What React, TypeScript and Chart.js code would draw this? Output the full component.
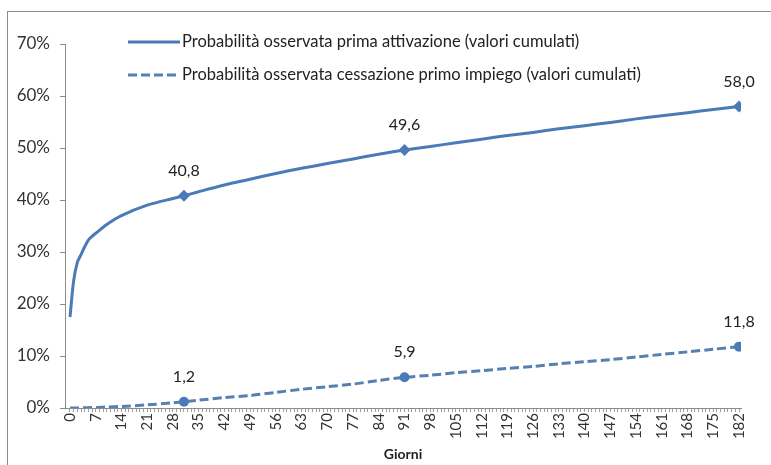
import React, { useEffect, useRef } from "react";
import { Chart, registerables } from "chart.js";

Chart.register(...registerables);

const days = [0, 1, 2, 3, 4, 5, 6, 7, 10, 14, 21, 28, 31, 35, 42, 49, 56, 63, 70, 77, 84, 91, 98, 105, 112, 119, 126, 133, 140, 147, 154, 161, 168, 175, 182];
// Probabilità osservata prima attivazione (valori cumulati), %
const attivazione = [17.5, 24.5, 28.0, 29.5, 31.0, 32.3, 33.0, 33.6, 35.3, 37.0, 39.0, 40.3, 40.8, 41.6, 42.9, 44.0, 45.1, 46.1, 47.0, 47.9, 48.8, 49.6, 50.3, 51.0, 51.7, 52.4, 53.0, 53.7, 54.3, 54.9, 55.6, 56.2, 56.8, 57.4, 58.0];
// Probabilità osservata cessazione primo impiego (valori cumulati), %
const cessazione = [0.0, 0.0, 0.0, 0.0, 0.05, 0.05, 0.1, 0.1, 0.2, 0.3, 0.6, 1.0, 1.2, 1.5, 2.0, 2.4, 3.0, 3.6, 4.1, 4.6, 5.3, 5.9, 6.3, 6.8, 7.2, 7.6, 8.0, 8.5, 8.9, 9.3, 9.8, 10.3, 10.8, 11.3, 11.8];
// Days with a marker and a value label
const markerDays = [31, 91, 182];
// Axis ticks
const xTickDays = Array.from({ length: 183 }, (_, i) => i);
const xLabelEvery = 7;
const yTicks = [0, 10, 20, 30, 40, 50, 60, 70];

const seriesNames = [
  "Probabilità osservata prima attivazione (valori cumulati)",
  "Probabilità osservata cessazione primo impiego (valori cumulati)",
];

const FONT = "Lato, 'Open Sans', sans-serif";
const BLUE = "#4a7bb7";
const BLUE2 = "#5680b0";

export default function App() {
  const ref = useRef<HTMLCanvasElement | null>(null);

  useEffect(() => {
    if (!ref.current) return;

    const framePlugin = {
      id: "frame",
      beforeDraw(chart: any) {
        const ctx = chart.ctx;
        ctx.save();
        ctx.fillStyle = "#ffffff";
        ctx.fillRect(0, 0, chart.width, chart.height);
        ctx.strokeStyle = "#8c8c8c";
        ctx.lineWidth = 1;
        ctx.strokeRect(7.5, 11.5, 900, 900);
        ctx.restore();
      },
    };

    const labelsPlugin = {
      id: "valueLabels",
      afterDatasetsDraw(chart: any) {
        const ctx = chart.ctx;
        ctx.save();
        ctx.font = `16px ${FONT}`;
        ctx.fillStyle = "#222";
        ctx.textAlign = "center";
        ctx.textBaseline = "middle";
        chart.data.datasets.forEach((ds: any, di: number) => {
          const meta = chart.getDatasetMeta(di);
          ds.data.forEach((p: any, i: number) => {
            if (!markerDays.includes(p.x)) return;
            const el = meta.data[i];
            ctx.fillText(p.y.toFixed(1).replace(".", ","), el.x, el.y - 25);
          });
        });
        ctx.restore();
      },
    };

    const legendPlugin = {
      id: "insideLegend",
      afterDraw(chart: any) {
        const ctx = chart.ctx;
        ctx.save();
        const rows = [
          { y: 42, dash: [] as number[], color: BLUE, text: seriesNames[0] },
          { y: 75, dash: [9, 4], color: BLUE2, text: seriesNames[1] },
        ];
        rows.forEach((r) => {
          ctx.beginPath();
          ctx.setLineDash(r.dash);
          ctx.strokeStyle = r.color;
          ctx.lineWidth = 3;
          ctx.moveTo(128, r.y);
          ctx.lineTo(180, r.y);
          ctx.stroke();
          ctx.setLineDash([]);
          ctx.font = `16.5px ${FONT}`;
          ctx.fillStyle = "#222";
          ctx.textAlign = "left";
          ctx.textBaseline = "middle";
          ctx.fillText(r.text, 182, r.y);
        });
        ctx.restore();
      },
    };

    const chart = new Chart(ref.current, {
      type: "line",
      data: {
        datasets: [
          {
            label: seriesNames[0],
            data: days.map((d, i) => ({ x: d, y: attivazione[i] })),
            borderColor: BLUE,
            backgroundColor: BLUE,
            borderWidth: 3,
            tension: 0.3,
            pointStyle: "rectRot",
            pointRadius: (c: any) => (markerDays.includes(days[c.dataIndex]) ? 6 : 0),
            pointHoverRadius: 0,
            pointBorderWidth: 0,
          },
          {
            label: seriesNames[1],
            data: days.map((d, i) => ({ x: d, y: cessazione[i] })),
            borderColor: BLUE2,
            backgroundColor: BLUE,
            borderWidth: 3,
            borderDash: [9, 4],
            tension: 0.3,
            pointStyle: "circle",
            pointRadius: (c: any) => (markerDays.includes(days[c.dataIndex]) ? 5 : 0),
            pointHoverRadius: 0,
            pointBorderWidth: 0,
          },
        ],
      },
      options: {
        responsive: false,
        animation: false,
        devicePixelRatio: 1,
        layout: { padding: { left: 0, right: 30, top: 44, bottom: 0 } },
        plugins: {
          legend: { display: false },
          tooltip: { enabled: false },
        },
        scales: {
          x: {
            type: "linear",
            min: -1.36,
            max: 182.54,
            afterBuildTicks: (scale: any) => {
              scale.ticks = xTickDays.map((v) => ({ value: v }));
            },
            afterFit: (scale: any) => {
              scale.height = 57;
            },
            ticks: {
              autoSkip: false,
              minRotation: 90,
              maxRotation: 90,
              padding: 1,
              color: "#333",
              font: { family: FONT, size: 15 },
              callback: (v: any) => (Number(v) % xLabelEvery === 0 ? String(v) : ""),
            },
            grid: { drawOnChartArea: false, drawTicks: true, tickLength: 4, color: "#a0a0a0" },
            border: { color: "#8c8c8c", width: 1 },
            title: {
              display: true,
              text: "Giorni",
              color: "#222",
              font: { family: FONT, size: 14, weight: "bold" },
              padding: { top: 0, bottom: 2 },
            },
          },
          y: {
            min: 0,
            max: 70,
            afterBuildTicks: (scale: any) => {
              scale.ticks = yTicks.map((v) => ({ value: v }));
            },
            afterFit: (scale: any) => {
              scale.width = 65;
            },
            ticks: {
              padding: 10,
              color: "#333",
              font: { family: FONT, size: 17 },
              callback: (v: any) => `${v}%`,
            },
            grid: { drawOnChartArea: false, drawTicks: true, tickLength: 5, color: "#8c8c8c" },
            border: { color: "#8c8c8c", width: 1 },
          },
        },
      },
      plugins: [framePlugin, labelsPlugin, legendPlugin],
    } as any);

    return () => chart.destroy();
  }, []);

  return (
    <div style={{ position: "absolute", left: 0, top: 0, width: 771, height: 465 }}>
      <canvas ref={ref} width={771} height={465} style={{ display: "block" }} />
    </div>
  );
}
